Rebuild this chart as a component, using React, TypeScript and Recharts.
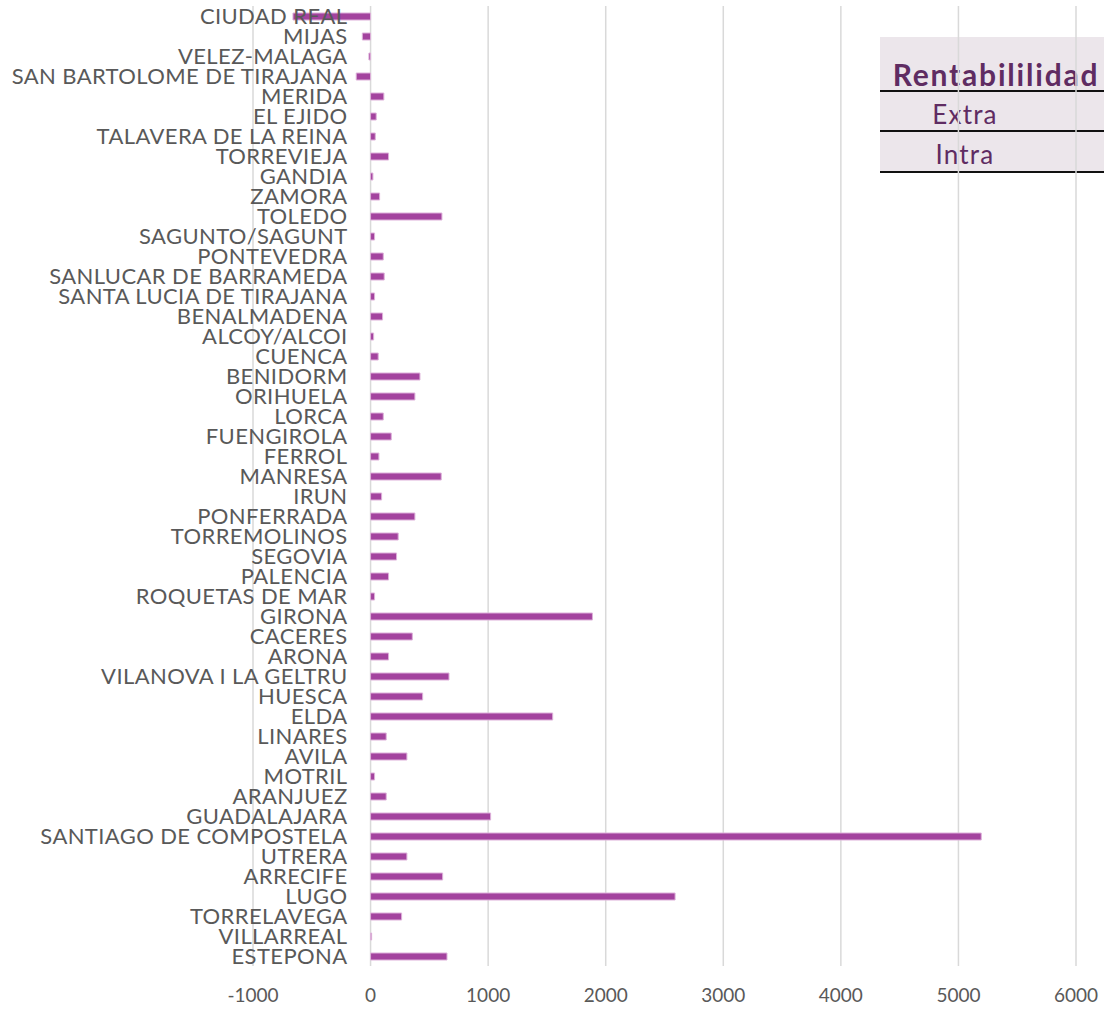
import React from 'react';
import { BarChart, Bar, XAxis, YAxis, CartesianGrid } from 'recharts';

const cities: string[] = [
  'CIUDAD REAL', 'MIJAS', 'VELEZ-MALAGA', 'SAN BARTOLOME DE TIRAJANA', 'MERIDA', 'EL EJIDO',
  'TALAVERA DE LA REINA', 'TORREVIEJA', 'GANDIA', 'ZAMORA', 'TOLEDO', 'SAGUNTO/SAGUNT',
  'PONTEVEDRA', 'SANLUCAR DE BARRAMEDA', 'SANTA LUCIA DE TIRAJANA', 'BENALMADENA', 'ALCOY/ALCOI',
  'CUENCA', 'BENIDORM', 'ORIHUELA', 'LORCA', 'FUENGIROLA', 'FERROL', 'MANRESA', 'IRUN',
  'PONFERRADA', 'TORREMOLINOS', 'SEGOVIA', 'PALENCIA', 'ROQUETAS DE MAR', 'GIRONA', 'CACERES',
  'ARONA', 'VILANOVA I LA GELTRU', 'HUESCA', 'ELDA', 'LINARES', 'AVILA', 'MOTRIL', 'ARANJUEZ',
  'GUADALAJARA', 'SANTIAGO DE COMPOSTELA', 'UTRERA', 'ARRECIFE', 'LUGO', 'TORRELAVEGA',
  'VILLARREAL', 'ESTEPONA',
];

const rentabilidad: number[] = [
  -660, -70, -14, -122, 113, 48,
  40, 153, 20, 77, 607, 34,
  108, 116, 34, 102, 26,
  65, 420, 377, 108, 176, 71, 601, 94,
  377, 235, 221, 153, 34, 1887, 355,
  153, 667, 443, 1549, 133, 309, 34, 133,
  1021, 5194, 309, 613, 2590, 264,
  9, 650,
];

const xTicks: number[] = [-1000, 0, 1000, 2000, 3000, 4000, 5000, 6000];
const legendTitle = 'Rentabililidad';
const legendRows: string[] = ['Extra', 'Intra'];

const data = cities.map((city, i) => ({ city, value: rentabilidad[i] }));

const W = 1104;
const H = 1010;
const Y_AXIS_W = 1;
const MARGIN = { top: 6, right: 28, bottom: 4, left: 252 };
const X_MIN = xTicks[0];
const X_MAX = xTicks[xTicks.length - 1];
const PLOT_W = W - MARGIN.left - Y_AXIS_W - MARGIN.right;
const ZERO_OFFSET = (PLOT_W * (0 - X_MIN)) / (X_MAX - X_MIN);

const FONT = 'Lato, "Open Sans", sans-serif';
const TEXT_COLOR = '#595959';

const renderCityTick = (props: any) => {
  const { x, y, payload } = props;
  return (
    <text
      key={`t-${payload.value}`}
      x={Number(x) + ZERO_OFFSET - 23}
      y={y}
      dy="0.36em"
      textAnchor="end"
      fill={TEXT_COLOR}
      fontFamily={FONT}
      fontSize={22}
      letterSpacing={0.4}
    >
      {payload.value}
    </text>
  );
};

const Legendbox = () => (
  <div
    style={{
      position: 'absolute',
      left: 880,
      top: 37,
      width: 224,
      background: '#ECE6EB',
      fontFamily: FONT,
      color: '#5F2C62',
    }}
  >
    <div
      style={{
        height: 55,
        borderBottom: '2px solid #111',
        display: 'flex',
        alignItems: 'center',
        justifyContent: 'center',
        fontWeight: 700,
        fontSize: 30,
        letterSpacing: 1.8,
        lineHeight: '34px',
        boxSizing: 'border-box',
        paddingTop: 20,
        paddingLeft: 8,
      }}
    >
      {legendTitle}
    </div>
    {legendRows.map((r, i) => (
      <div
        key={r}
        style={{
          height: i === 0 ? 40 : 41,
          borderBottom: '2px solid #111',
          boxSizing: 'border-box',
          display: 'flex',
          alignItems: 'center',
          justifyContent: 'center',
          fontSize: 26,
          letterSpacing: 1.2,
          lineHeight: '30px',
          paddingRight: 54,
          paddingTop: 5,
        }}
      >
        {r}
      </div>
    ))}
  </div>
);

export default function App() {
  return (
    <div style={{ position: 'absolute', left: 0, top: 0, width: W, height: H, background: '#fff' }}>
      <Legendbox />
      <div style={{ position: 'absolute', left: 0, top: 0 }}>
        <BarChart width={W} height={H} data={data} layout="vertical" margin={MARGIN} barCategoryGap={0}>
          <CartesianGrid horizontal={false} vertical stroke="#D9D9D9" strokeWidth={1.5} />
          <XAxis
            type="number"
            domain={[X_MIN, X_MAX]}
            ticks={xTicks}
            allowDataOverflow
            axisLine={false}
            tickLine={false}
            tickSize={0}
            tickMargin={23}
            height={40}
            interval={0}
            tick={{ fill: TEXT_COLOR, fontFamily: FONT, fontSize: 19 }}
          />
          <YAxis
            type="category"
            dataKey="city"
            width={Y_AXIS_W}
            axisLine={false}
            tickLine={false}
            tickSize={0}
            tickMargin={0}
            interval={0}
            tick={renderCityTick}
          />
          <Bar
            dataKey="value"
            fill="#A3439E"
            stroke="#DDB0D9"
            strokeWidth={1}
            barSize={7}
            isAnimationActive={false}
          />
        </BarChart>
      </div>
    </div>
  );
}
